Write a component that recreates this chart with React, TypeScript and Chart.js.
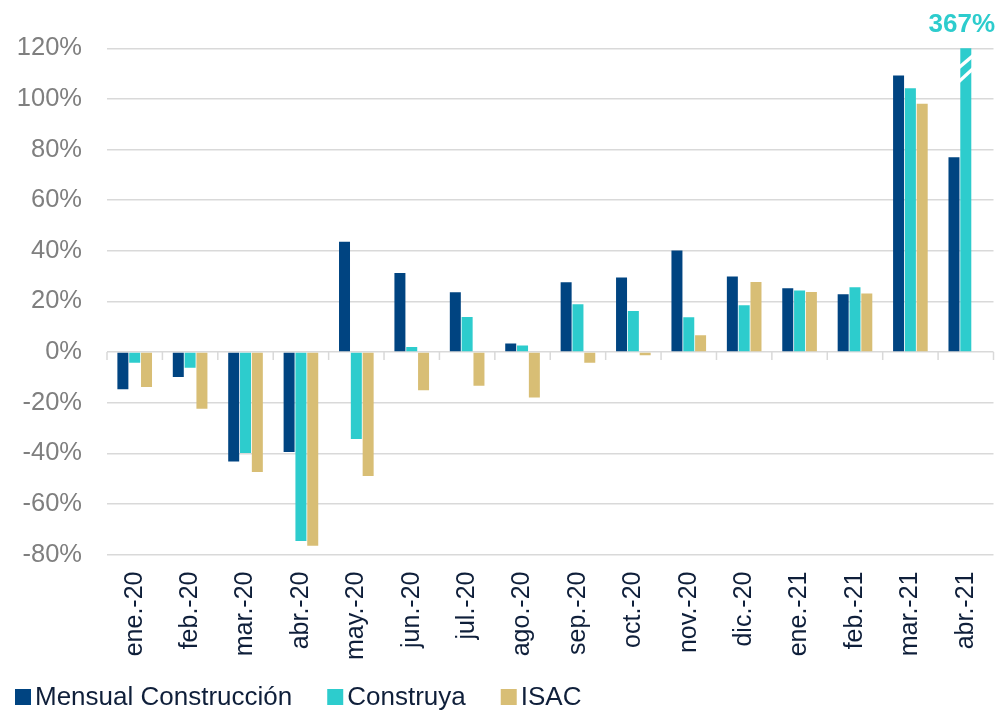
import React, { useEffect, useRef } from 'react';
import { Chart, registerables } from 'chart.js';

Chart.register(...registerables);

// ---- Data ----
const categories: string[] = [
  'ene.-20', 'feb.-20', 'mar.-20', 'abr.-20', 'may.-20', 'jun.-20', 'jul.-20', 'ago.-20',
  'sep.-20', 'oct.-20', 'nov.-20', 'dic.-20', 'ene.-21', 'feb.-21', 'mar.-21', 'abr.-21',
];
const mensualConstruccion: (number | null)[] = [
  -14.7, -9.9, -43.3, -39.5, 43.6, 31.2, 23.6, 3.4, 27.6, 29.4, 40.1, 29.8, 25.2, 22.8, 109.3, 77.0,
];
const construya: (number | null)[] = [
  -4.2, -6.2, -39.9, -74.7, -34.4, 2.0, 13.8, 2.6, 18.9, 16.2, 13.7, 18.5, 24.3, 25.6, 104.2, 367,
];
const isac: (number | null)[] = [
  -13.8, -22.4, -47.4, -76.5, -49.0, -15.1, -13.3, -18.0, -4.2, -1.3, 6.6, 27.7, 23.7, 23.1, 98.1, null,
];
const seriesNames: string[] = ['Mensual Construcción', 'Construya', 'ISAC'];
const yMin = -80;
const yMax = 120;
const yStep = 20;

// ---- Styles ----
const NAVY = '#004481';
const AQUA = '#2DCCCD';
const SAND = '#D8BE75';
const TEXT = '#0f1f3a';
const GRAY = '#7f7f7f';
const GRID = '#d9d9d9';
const FONT = '"Liberation Sans", Arial, Helvetica, sans-serif';

const zeroTicksPlugin = {
  id: 'zeroTicks',
  beforeDatasetsDraw(chart: any) {
    const x = chart.scales.x;
    const y = chart.scales.y;
    const ctx = chart.ctx;
    const y0 = y.getPixelForValue(0);
    const n = chart.data.labels.length;
    const half = (x.getPixelForValue(1) - x.getPixelForValue(0)) / 2;
    ctx.save();
    ctx.strokeStyle = GRID;
    ctx.lineWidth = 1.5;
    for (let i = 0; i <= n; i++) {
      const px = i < n ? x.getPixelForValue(i) - half : x.getPixelForValue(n - 1) + half;
      ctx.beginPath();
      ctx.moveTo(px, y0);
      ctx.lineTo(px, y0 + 8);
      ctx.stroke();
    }
    ctx.restore();
  },
};

const breakPlugin = {
  id: 'breakMarker',
  afterDatasetsDraw(chart: any) {
    const ctx = chart.ctx;
    const area = chart.chartArea;
    chart.data.datasets.forEach((ds: any, di: number) => {
      const meta = chart.getDatasetMeta(di);
      ds.data.forEach((v: number | null, i: number) => {
        if (v == null || v <= yMax) return;
        const bar: any = meta.data[i];
        const props = bar.getProps(['x', 'width'], true);
        const xl = props.x - props.width / 2 - 1;
        const xr = props.x + props.width / 2 + 1;
        ctx.save();
        ctx.fillStyle = '#ffffff';
        const stripes = [
          [area.top + 19, area.top + 8],
          [area.top + 33, area.top + 21],
        ];
        stripes.forEach(([yl, yr]) => {
          ctx.beginPath();
          ctx.moveTo(xl, yl - 2.3);
          ctx.lineTo(xr, yr - 2.3);
          ctx.lineTo(xr, yr + 2.3);
          ctx.lineTo(xl, yl + 2.3);
          ctx.closePath();
          ctx.fill();
        });
        // value label
        const label = `${v}%`;
        ctx.font = `bold 26px ${FONT}`;
        ctx.fillStyle = ds.backgroundColor;
        ctx.textAlign = 'center';
        ctx.textBaseline = 'alphabetic';
        const w = ctx.measureText(label).width;
        const cx = Math.min(props.x, chart.width - 5 - w / 2);
        ctx.fillText(label, cx, area.top - 16);
        ctx.restore();
      });
    });
  },
};

const legendPlugin = {
  id: 'customLegend',
  afterDraw(chart: any) {
    const ctx = chart.ctx;
    ctx.save();
    ctx.font = `26px ${FONT}`;
    ctx.textBaseline = 'middle';
    ctx.textAlign = 'left';
    let x = 15;
    const y = 697;
    chart.data.datasets.forEach((ds: any) => {
      ctx.fillStyle = ds.backgroundColor;
      ctx.fillRect(x, y - 8, 16, 16);
      ctx.fillStyle = TEXT;
      ctx.fillText(ds.label, x + 20, y + 1);
      x += 20 + ctx.measureText(ds.label).width + 35;
    });
    ctx.restore();
  },
};

export default function App() {
  const canvasRef = useRef<HTMLCanvasElement | null>(null);

  useEffect(() => {
    document.body.style.margin = '0';
    const canvas = canvasRef.current;
    if (!canvas) return;
    Chart.defaults.font.family = FONT;

    const makeDs = (label: string, data: (number | null)[], color: string) => ({
      label,
      data,
      backgroundColor: color,
      borderWidth: 0,
      barPercentage: 0.93,
      categoryPercentage: 0.64,
    });

    const chart = new Chart(canvas, {
      type: 'bar',
      data: {
        labels: categories,
        datasets: [
          makeDs(seriesNames[0], mensualConstruccion, NAVY),
          makeDs(seriesNames[1], construya, AQUA),
          makeDs(seriesNames[2], isac, SAND),
        ],
      },
      options: {
        responsive: false,
        animation: false,
        devicePixelRatio: 1,
        layout: { padding: { top: 48.3, right: 6.5, left: 0, bottom: 0 } },
        plugins: {
          legend: { display: false },
          tooltip: { enabled: false },
        },
        scales: {
          x: {
            grid: { display: false, drawTicks: false },
            border: { display: false },
            ticks: {
              color: TEXT,
              font: { size: 25, family: FONT },
              minRotation: 90,
              maxRotation: 90,
              padding: 17,
              autoSkip: false,
            },
            afterFit: (s: any) => {
              s.height = 156.5;
              s.paddingLeft = 0;
              s.paddingRight = 0;
            },
          },
          y: {
            min: yMin,
            max: yMax,
            grid: { color: GRID, lineWidth: 1.5, drawTicks: false },
            border: { display: false },
            ticks: {
              stepSize: yStep,
              color: GRAY,
              font: { size: 25.5, family: FONT },
              padding: 25,
              callback: (v: any) => `${v}%`,
            },
            afterFit: (s: any) => {
              s.width = 107;
              s.paddingTop = 0;
              s.paddingBottom = 0;
            },
          },
        },
      },
      plugins: [zeroTicksPlugin, breakPlugin, legendPlugin],
    });

    return () => {
      chart.destroy();
    };
  }, []);

  return (
    <div style={{ width: 1000, height: 711, background: '#ffffff' }}>
      <canvas ref={canvasRef} width={1000} height={711} style={{ display: 'block' }} />
    </div>
  );
}
